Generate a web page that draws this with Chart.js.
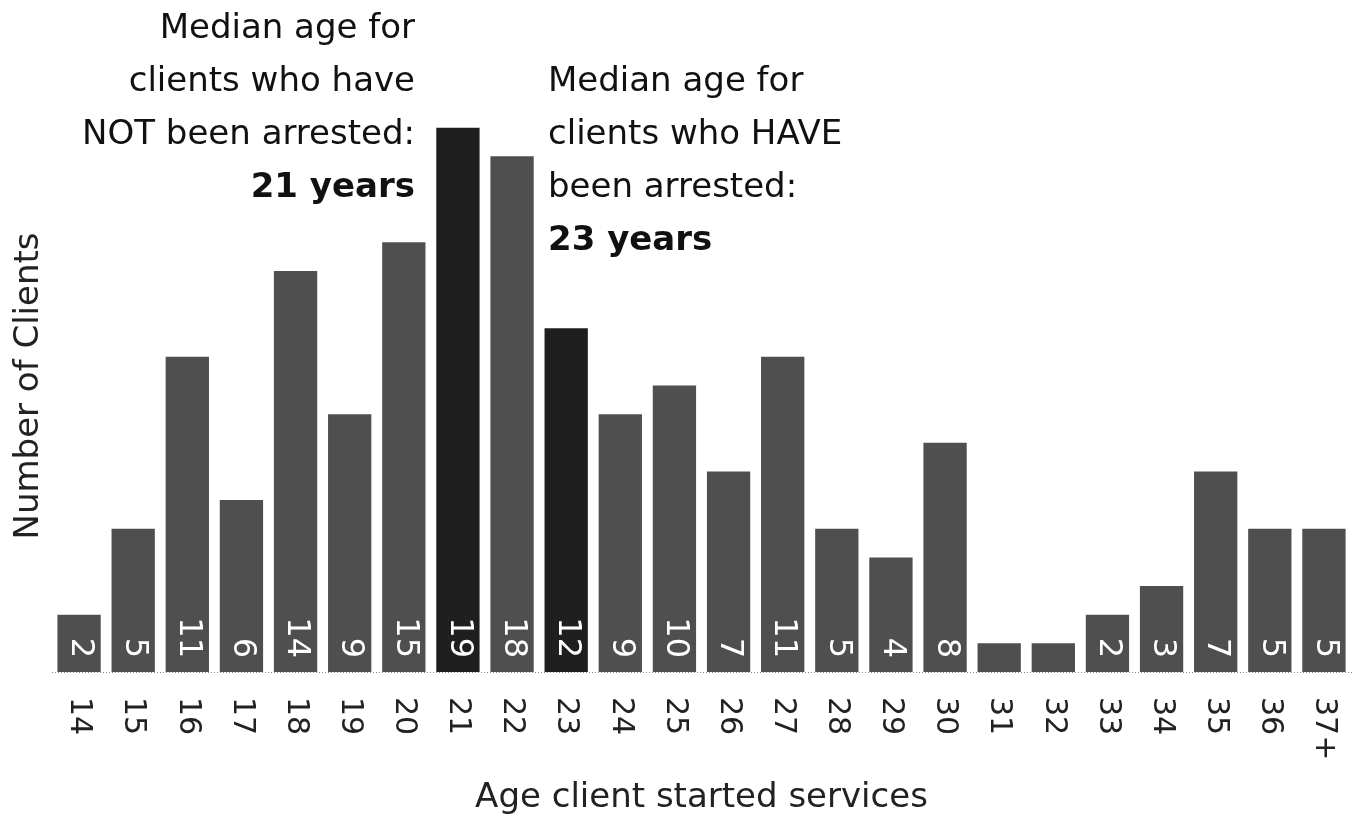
<!DOCTYPE html>
<html>
<head>
<meta charset="utf-8">
<script src="https://cdn.jsdelivr.net/npm/chart.js@4"></script>
<style>
  html, body { margin: 0; padding: 0; background: #fff; }
  #wrap { position: relative; width: 1354px; height: 819px; }
</style>
</head>
<body>
<div id="wrap"><canvas id="ageChart"></canvas></div>
<script>
// 数据
const ages = ['14', '15', '16', '17', '18', '19', '20', '21', '22', '23', '24', '25',
              '26', '27', '28', '29', '30', '31', '32', '33', '34', '35', '36', '37+'];
const clients = [2, 5, 11, 6, 14, 9, 15, 19, 18, 12, 9, 10, 7, 11, 5, 4, 8, 1, 1, 2, 3, 7, 5, 5];
const medianAges = ['21', '23'];
const yTicks = [0, 20];

const xTitle = 'Age client started services';
const yTitle = 'Number of Clients';
const noteNotArrested = ['Median age for', 'clients who have', 'NOT been arrested:', '21 years'];
const noteArrested = ['Median age for', 'clients who HAVE', 'been arrested:', '23 years'];

const FONT = "'DejaVu Sans', sans-serif";
const barGray = '#4f4f4f';
const barDark = '#1f1f1f';

// 自定义绘制：基线、柱内数字、竖排刻度、标题和注释
const decorations = {
    id: 'decorations',
    beforeDatasetsDraw(chart) {
        const ctx = chart.ctx;
        const y0 = chart.scales.y.getPixelForValue(0);
        ctx.save();
        ctx.strokeStyle = '#8a8a8a';
        ctx.lineWidth = 1;
        ctx.setLineDash([1, 2]);
        ctx.beginPath();
        ctx.moveTo(chart.chartArea.left, y0 + 0.5);
        ctx.lineTo(chart.width, y0 + 0.5);
        ctx.stroke();
        ctx.restore();
    },
    afterDatasetsDraw(chart) {
        const ctx = chart.ctx;
        const xs = chart.scales.x;
        const y0 = chart.scales.y.getPixelForValue(0);
        const bars = chart.getDatasetMeta(0).data;

        // 柱内数值（顺时针旋转）
        ctx.save();
        ctx.fillStyle = '#ffffff';
        ctx.font = '32px ' + FONT;
        ctx.textAlign = 'right';
        ctx.textBaseline = 'middle';
        clients.forEach((v, i) => {
            if (v < 2) return;
            ctx.save();
            ctx.translate(bars[i].x + 1, y0 - 14);
            ctx.rotate(Math.PI / 2);
            ctx.fillText(String(v), 0, 0);
            ctx.restore();
        });
        ctx.restore();

        // x 轴刻度（顺时针旋转）
        ctx.save();
        ctx.fillStyle = '#222';
        ctx.font = '30px ' + FONT;
        ctx.textAlign = 'left';
        ctx.textBaseline = 'middle';
        ages.forEach((a, i) => {
            ctx.save();
            ctx.translate(xs.getPixelForValue(i), y0 + 25);
            ctx.rotate(Math.PI / 2);
            ctx.fillText(a, 0, 0);
            ctx.restore();
        });
        ctx.restore();

        // 轴标题
        ctx.save();
        ctx.fillStyle = '#222';
        ctx.font = '34px ' + FONT;
        ctx.textAlign = 'center';
        ctx.textBaseline = 'alphabetic';
        ctx.fillText(xTitle, (chart.chartArea.left + chart.chartArea.right) / 2, 807);
        ctx.translate(38, 386);
        ctx.rotate(-Math.PI / 2);
        ctx.fillText(yTitle, 0, 0);
        ctx.restore();

        // 中位数注释
        ctx.save();
        ctx.fillStyle = '#111';
        ctx.textBaseline = 'alphabetic';
        ctx.textAlign = 'right';
        noteNotArrested.forEach((t, i) => {
            ctx.font = (i === 3 ? 'bold ' : '') + '34px ' + FONT;
            ctx.fillText(t, 415, 38 + i * 53);
        });
        ctx.textAlign = 'left';
        noteArrested.forEach((t, i) => {
            ctx.font = (i === 3 ? 'bold ' : '') + '34px ' + FONT;
            ctx.fillText(t, 548, 91 + i * 53);
        });
        ctx.restore();
    }
};

const ctx = document.getElementById('ageChart').getContext('2d');
const ageChart = new Chart(ctx, {
    type: 'bar',
    data: {
        labels: ages,
        datasets: [{
            label: yTitle,
            data: clients,
            backgroundColor: ages.map(a => medianAges.includes(a) ? barDark : barGray),
            borderWidth: 0,
            barPercentage: 0.8,
            categoryPercentage: 1.0
        }]
    },
    options: {
        responsive: true,
        maintainAspectRatio: false,
        animation: false,
        layout: {
            padding: { top: 99, bottom: 147, left: 52, right: 3 }
        },
        scales: {
            x: { display: false, offset: true },
            y: {
                display: false,
                min: yTicks[0],
                max: yTicks[1]
            }
        },
        plugins: {
            legend: { display: false },
            tooltip: { enabled: false }
        }
    },
    plugins: [decorations]
});
</script>
</body>
</html>
